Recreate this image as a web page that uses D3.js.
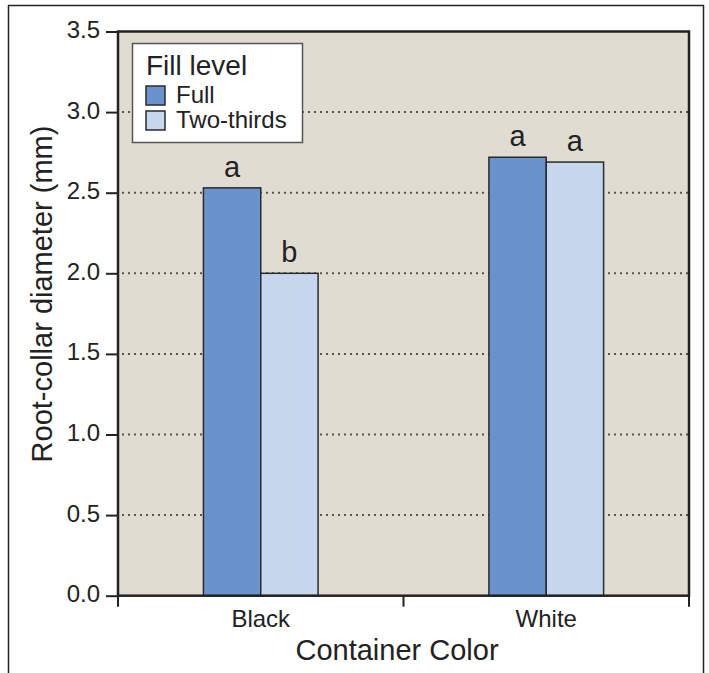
<!DOCTYPE html>
<html>
<head>
<meta charset="utf-8">
<script src="https://cdn.jsdelivr.net/npm/d3@7"></script>
<style>
  body { margin: 0; background: #fff; }
  svg { font-family: "Liberation Sans", Arial, sans-serif; }
</style>
</head>
<body>
<svg id="chart"></svg>
<script>
var width = 709;
var height = 673;

// data
var colors = ['Black', 'White'];
var fillLevels = ['Full', 'Two-thirds'];
var fullValues = [2.53, 2.72];
var twoThirdsValues = [2.00, 2.69];
var letters = [['a', 'b'], ['a', 'a']];
var yTicks = [0, 0.5, 1.0, 1.5, 2.0, 2.5, 3.0, 3.5];

var plot = {left: 118, right: 689, top: 31.5, bottom: 595.7};

var fillColor = {'Full': '#6a92cc', 'Two-thirds': '#c6d6ed'};

var data = colors.map(function(c, i){
  return {color: c, values: [
    {level: 'Full', value: fullValues[i], letter: letters[i][0]},
    {level: 'Two-thirds', value: twoThirdsValues[i], letter: letters[i][1]}
  ]};
});

var svg = d3.select('#chart')
  .attr('width', width)
  .attr('height', height);

// outer frame
svg.append('rect')
  .attr('x', 8.5)
  .attr('y', 5.5)
  .attr('width', 695)
  .attr('height', 700)
  .attr('fill', 'none')
  .attr('stroke', '#222')
  .attr('stroke-width', 1.5);

var yScale = d3.scaleLinear()
  .domain([0, 3.5])
  .range([plot.bottom, plot.top]);

var x0 = d3.scaleBand()
  .domain(colors)
  .range([plot.left, plot.right])
  .padding(0);

var x1 = d3.scaleBand()
  .domain(fillLevels)
  .range([0, x0.bandwidth()])
  .paddingInner(0)
  .paddingOuter(1.49);

// plot background
svg.append('rect')
  .attr('x', plot.left)
  .attr('y', plot.top)
  .attr('width', plot.right - plot.left)
  .attr('height', plot.bottom - plot.top)
  .attr('fill', '#e1dcd2');

// dotted gridlines
svg.append('g')
  .selectAll('line')
  .data(yTicks.filter(d => d > 0 && d < 3.5))
  .enter()
  .append('line')
    .attr('x1', plot.left + 4)
    .attr('x2', plot.right)
    .attr('y1', d => yScale(d))
    .attr('y2', d => yScale(d))
    .attr('stroke', '#555')
    .attr('stroke-width', 2)
    .attr('stroke-dasharray', '2,4');

// bars
var groups = svg.append('g')
  .selectAll('g')
  .data(data)
  .enter()
  .append('g')
    .attr('transform', d => `translate(${x0(d.color)},0)`);

groups.selectAll('rect')
  .data(d => d.values)
  .enter()
  .append('rect')
    .attr('x', d => x1(d.level))
    .attr('y', d => yScale(d.value))
    .attr('width', x1.bandwidth())
    .attr('height', d => yScale(0) - yScale(d.value))
    .attr('fill', d => fillColor[d.level])
    .attr('stroke', '#2a2a2a')
    .attr('stroke-width', 1.5);

groups.selectAll('text')
  .data(d => d.values)
  .enter()
  .append('text')
    .attr('x', d => x1(d.level) + x1.bandwidth() / 2)
    .attr('y', d => yScale(d.value) - 11)
    .attr('text-anchor', 'middle')
    .style('font-size', '29px')
    .attr('fill', '#222')
    .text(d => d.letter);

// plot border
svg.append('rect')
  .attr('x', plot.left)
  .attr('y', plot.top)
  .attr('width', plot.right - plot.left)
  .attr('height', plot.bottom - plot.top)
  .attr('fill', 'none')
  .attr('stroke', '#222')
  .attr('stroke-width', 2.5);

// y axis
var yAxis = svg.append('g')
  .attr('transform', `translate(${plot.left},0)`)
  .call(d3.axisLeft(yScale)
    .tickValues(yTicks)
    .tickFormat(d3.format('.1f'))
    .tickSize(12)
    .tickPadding(6));
yAxis.select('.domain').remove();
yAxis.selectAll('line').attr('stroke', '#222').attr('stroke-width', 2);
yAxis.selectAll('text')
  .attr('dy', '0.25em')
  .style('font-size', '24px')
  .style('font-family', '"Liberation Sans", Arial, sans-serif')
  .attr('fill', '#222');

// x axis (ticks at band edges)
var xTicks = [plot.left, x0('White'), plot.right];
svg.append('g')
  .selectAll('line')
  .data(xTicks)
  .enter()
  .append('line')
    .attr('x1', d => d)
    .attr('x2', d => d)
    .attr('y1', plot.bottom)
    .attr('y2', plot.bottom + 11)
    .attr('stroke', '#222')
    .attr('stroke-width', 2);

svg.append('g')
  .selectAll('text')
  .data(colors)
  .enter()
  .append('text')
    .attr('x', d => x0(d) + x0.bandwidth() / 2)
    .attr('y', 627)
    .attr('text-anchor', 'middle')
    .style('font-size', '24px')
    .attr('fill', '#222')
    .text(d => d);

// axis titles
svg.append('text')
  .attr('x', 397)
  .attr('y', 660)
  .attr('text-anchor', 'middle')
  .style('font-size', '29px')
  .attr('fill', '#222')
  .text('Container Color');

svg.append('text')
  .attr('transform', 'rotate(-90)')
  .attr('x', -294)
  .attr('y', 52)
  .attr('text-anchor', 'middle')
  .style('font-size', '29px')
  .attr('fill', '#222')
  .text('Root-collar diameter (mm)');

// legend
var legend = svg.append('g').attr('transform', 'translate(132,43)');
legend.append('rect')
  .attr('x', 0.5)
  .attr('y', 0.5)
  .attr('width', 170)
  .attr('height', 99)
  .attr('fill', '#fff')
  .attr('stroke', '#555')
  .attr('stroke-width', 1.5);
legend.append('text')
  .attr('x', 14)
  .attr('y', 32)
  .style('font-size', '28px')
  .attr('fill', '#222')
  .text('Fill level');

var items = legend.selectAll('g.item')
  .data(fillLevels)
  .enter()
  .append('g')
    .attr('class', 'item')
    .attr('transform', (d, i) => `translate(14,${43 + i * 25})`);
items.append('rect')
  .attr('width', 19)
  .attr('height', 19)
  .attr('fill', d => fillColor[d])
  .attr('stroke', '#2a2a2a')
  .attr('stroke-width', 1.5);
items.append('text')
  .attr('x', 30)
  .attr('y', 17)
  .style('font-size', '24px')
  .attr('fill', '#222')
  .text(d => d);
</script>
</body>
</html>
